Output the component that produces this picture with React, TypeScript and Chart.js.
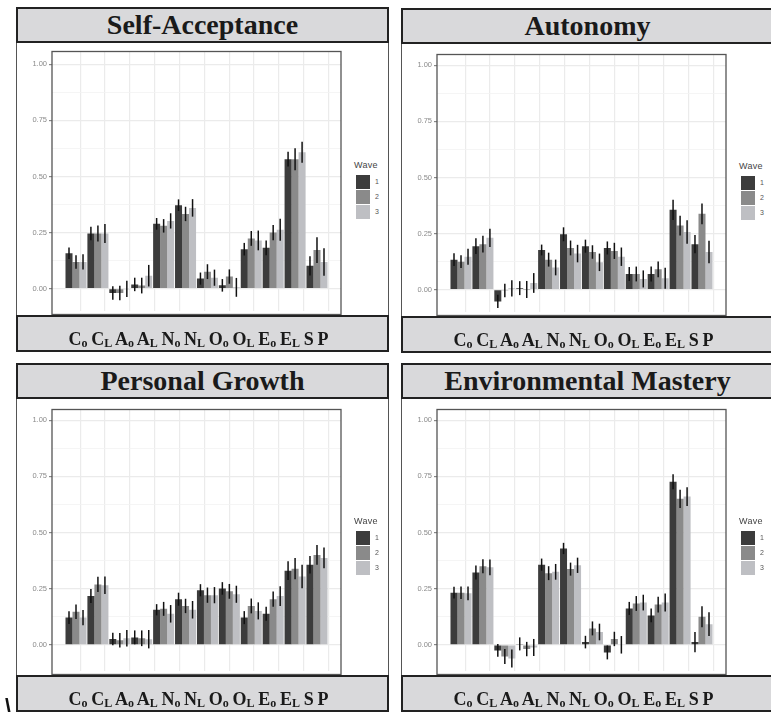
import React, { useEffect, useRef } from "react";
import { Chart, registerables } from "chart.js";
Chart.register(...registerables);

const CATEGORIES = ["Co", "CL", "Ao", "AL", "No", "NL", "Oo", "OL", "Eo", "EL", "S", "P"];
const WAVES = ["1", "2", "3"];
const WAVE_COLORS = ["#3c3c3c", "#8a8a8a", "#bebfc3"];
const Y_TICKS = [0, 0.25, 0.5, 0.75, 1];
const Y_MINOR = [0.125, 0.375, 0.625, 0.875];

// Self-Acceptance
const SA_W1 = [0.158, 0.246, -0.019, 0.019, 0.289, 0.372, 0.045, 0.015, 0.176, 0.182, 0.577, 0.102];
const SA_W2 = [0.119, 0.246, -0.019, 0.014, 0.28, 0.333, 0.076, 0.054, 0.224, 0.25, 0.577, 0.172];
const SA_W3 = [0.119, 0.246, -0.001, 0.058, 0.302, 0.36, 0.049, 0.006, 0.215, 0.263, 0.608, 0.119];
const SA_E1 = [0.026, 0.03, 0.03, 0.03, 0.026, 0.026, 0.027, 0.028, 0.028, 0.033, 0.033, 0.043];
const SA_E2 = [0.03, 0.036, 0.032, 0.035, 0.03, 0.032, 0.033, 0.032, 0.033, 0.034, 0.049, 0.057];
const SA_E3 = [0.034, 0.042, 0.036, 0.048, 0.034, 0.039, 0.036, 0.042, 0.044, 0.049, 0.047, 0.061];

// Autonomy
const AU_W1 = [0.134, 0.194, -0.052, 0.007, 0.177, 0.247, 0.194, 0.186, 0.07, 0.07, 0.356, 0.203];
const AU_W2 = [0.125, 0.203, -0.004, 0.001, 0.134, 0.186, 0.168, 0.173, 0.07, 0.091, 0.286, 0.338];
const AU_W3 = [0.147, 0.231, 0.006, 0.03, 0.099, 0.161, 0.122, 0.147, 0.048, 0.051, 0.257, 0.168];
const AU_E1 = [0.028, 0.035, 0.029, 0.031, 0.024, 0.031, 0.029, 0.029, 0.031, 0.033, 0.045, 0.041];
const AU_E2 = [0.028, 0.037, 0.03, 0.038, 0.031, 0.033, 0.03, 0.036, 0.033, 0.035, 0.044, 0.046];
const AU_E3 = [0.036, 0.041, 0.036, 0.044, 0.035, 0.039, 0.039, 0.041, 0.038, 0.047, 0.052, 0.05];

// Personal Growth
const PG_W1 = [0.121, 0.217, 0.026, 0.033, 0.156, 0.203, 0.243, 0.251, 0.121, 0.138, 0.33, 0.356];
const PG_W2 = [0.147, 0.269, 0.02, 0.029, 0.16, 0.173, 0.221, 0.238, 0.173, 0.203, 0.339, 0.4];
const PG_W3 = [0.121, 0.265, 0.029, 0.025, 0.138, 0.156, 0.221, 0.225, 0.151, 0.217, 0.304, 0.387];
const PG_E1 = [0.028, 0.031, 0.028, 0.031, 0.025, 0.029, 0.027, 0.028, 0.029, 0.031, 0.042, 0.039];
const PG_E2 = [0.032, 0.034, 0.032, 0.035, 0.031, 0.032, 0.034, 0.033, 0.033, 0.034, 0.047, 0.044];
const PG_E3 = [0.034, 0.039, 0.037, 0.041, 0.039, 0.039, 0.036, 0.038, 0.038, 0.044, 0.052, 0.046];

// Environmental Mastery
const EM_W1 = [0.232, 0.322, -0.025, 0.004, 0.357, 0.429, 0.012, -0.034, 0.162, 0.131, 0.726, 0.012];
const EM_W2 = [0.232, 0.35, -0.052, -0.019, 0.319, 0.337, 0.073, 0.026, 0.184, 0.179, 0.65, 0.125];
const EM_W3 = [0.229, 0.345, -0.061, -0.012, 0.325, 0.354, 0.057, 0.0, 0.188, 0.188, 0.66, 0.092];
const EM_E1 = [0.026, 0.031, 0.028, 0.029, 0.027, 0.025, 0.028, 0.031, 0.029, 0.031, 0.033, 0.045];
const EM_E2 = [0.028, 0.031, 0.033, 0.032, 0.031, 0.029, 0.031, 0.032, 0.033, 0.035, 0.041, 0.047];
const EM_E3 = [0.031, 0.035, 0.04, 0.038, 0.035, 0.034, 0.037, 0.039, 0.035, 0.04, 0.042, 0.053];

type PanelCfg = {
  title: string;
  values: number[][];
  errs: number[][];
  x0: number;
  y0: number;
  plotTop: number;
  plotBottom: number;
};

const PANELS: PanelCfg[] = [
  { title: "Self-Acceptance", values: [SA_W1, SA_W2, SA_W3], errs: [SA_E1, SA_E2, SA_E3], x0: 16, y0: 7, plotTop: 43, plotBottom: 308 },
  { title: "Autonomy", values: [AU_W1, AU_W2, AU_W3], errs: [AU_E1, AU_E2, AU_E3], x0: 401, y0: 8, plotTop: 45, plotBottom: 308 },
  { title: "Personal Growth", values: [PG_W1, PG_W2, PG_W3], errs: [PG_E1, PG_E2, PG_E3], x0: 16, y0: 363, plotTop: 45, plotBottom: 312 },
  { title: "Environmental Mastery", values: [EM_W1, EM_W2, EM_W3], errs: [EM_E1, EM_E2, EM_E3], x0: 401, y0: 363, plotTop: 45, plotBottom: 312 },
];

const PANEL_W = 373;
const STRIP_H = 36;
const BOTTOM_STRIP_H = 37;
const PLOT_LEFT = 36;
const PLOT_W = 289;
const Y_AXIS_W = 32;
const ONE_REL = 56;
const ZERO_REL = 285.7;
const PAD_TOP = 5;
const PAD_BOTTOM = 2;
const PAD_RIGHT = 4;

const SERIF = '"Liberation Serif", "Times New Roman", serif';
const SANS = '"Liberation Sans", Arial, sans-serif';

const isMajor = (v: number) => Y_TICKS.some((t) => Math.abs(t - v) < 1e-6);

const errorBarPlugin = {
  id: "errorBars",
  afterDatasetsDraw(chart: any) {
    const ctx = chart.ctx;
    const ys = chart.scales.y;
    ctx.save();
    ctx.strokeStyle = "#111111";
    ctx.lineWidth = 1.5;
    chart.data.datasets.forEach((ds: any, di: number) => {
      const meta = chart.getDatasetMeta(di);
      meta.data.forEach((bar: any, i: number) => {
        const v = ds.data[i].y;
        const e = ds.errs[i];
        ctx.beginPath();
        ctx.moveTo(bar.x, ys.getPixelForValue(v - e));
        ctx.lineTo(bar.x, ys.getPixelForValue(v + e));
        ctx.stroke();
      });
    });
    ctx.restore();
  },
};

const panelBorderPlugin = {
  id: "panelBorder",
  afterDraw(chart: any) {
    const { left, top, right, bottom } = chart.chartArea;
    const ctx = chart.ctx;
    ctx.save();
    ctx.strokeStyle = "#555555";
    ctx.lineWidth = 1.3;
    ctx.strokeRect(left, top, right - left, bottom - top + 4);
    ctx.restore();
  },
};

function Panel({ cfg }: { cfg: PanelCfg }) {
  const ref = useRef<HTMLCanvasElement | null>(null);
  const canvasLeft = PLOT_LEFT - Y_AXIS_W;
  const canvasTop = cfg.plotTop - PAD_TOP;
  const canvasW = PLOT_LEFT + PLOT_W + PAD_RIGHT - canvasLeft;
  const canvasH = cfg.plotBottom - canvasTop + PAD_BOTTOM;
  const pxPerUnit = ZERO_REL - ONE_REL;
  const yMax = 1 + (ONE_REL - cfg.plotTop) / pxPerUnit;
  const yMin = -(cfg.plotBottom - ZERO_REL) / pxPerUnit;

  useEffect(() => {
    if (!ref.current) return;
    const allTicks = [...Y_TICKS, ...Y_MINOR].sort((a, b) => a - b);
    const chart = new Chart(ref.current, {
      type: "bar",
      data: {
        datasets: WAVES.map((w, wi) => ({
          label: w,
          data: CATEGORIES.map((_, i) => ({ x: i, y: cfg.values[wi][i] })),
          errs: cfg.errs[wi],
          backgroundColor: WAVE_COLORS[wi],
          borderWidth: 0,
          categoryPercentage: 0.96,
          barPercentage: 1.0,
          xAxisID: "x",
          yAxisID: "y",
        })) as any,
      },
      options: {
        responsive: false,
        animation: false,
        devicePixelRatio: 1,
        layout: { padding: { top: PAD_TOP, bottom: PAD_BOTTOM, right: PAD_RIGHT, left: 0 } },
        plugins: { legend: { display: false }, tooltip: { enabled: false } },
        scales: {
          x: {
            type: "linear",
            min: -1.096,
            max: CATEGORIES.length - 1 + 1.096,
            offset: false,
            afterBuildTicks: (s: any) => {
              s.ticks = CATEGORIES.map((_, i) => ({ value: i }));
            },
            grid: { display: false, offset: false },
            border: { display: false },
            ticks: { display: false },
            afterFit: (s: any) => {
              s.height = 0;
            },
          },
          xg: {
            type: "linear",
            axis: "x",
            position: "bottom",
            min: -1.05,
            max: 9.42,
            afterBuildTicks: (s: any) => {
              s.ticks = Array.from({ length: 10 }, (_, k) => ({ value: k }));
            },
            grid: { color: "#ebebeb", lineWidth: 1.2, drawTicks: false },
            border: { display: false },
            ticks: { display: false },
            afterFit: (s: any) => {
              s.height = 0;
            },
          },
          y: {
            type: "linear",
            min: yMin,
            max: yMax,
            afterBuildTicks: (s: any) => {
              s.ticks = allTicks.map((v) => ({ value: v }));
            },
            afterFit: (s: any) => {
              s.width = Y_AXIS_W;
            },
            border: { display: false },
            grid: {
              color: (c: any) => (isMajor(c.tick.value) ? "#ebebeb" : "#f3f3f3"),
              lineWidth: (c: any) => (isMajor(c.tick.value) ? 1.2 : 0.8),
              tickColor: (c: any) => (isMajor(c.tick.value) ? "#888888" : "rgba(0,0,0,0)"),
              tickLength: 3,
            },
            ticks: {
              padding: 2,
              color: "#8a8a8a",
              font: { family: SANS, size: 7.5 },
              callback: (v: any) => (isMajor(Number(v)) ? Number(v).toFixed(2) : ""),
            },
          },
        } as any,
      },
      plugins: [errorBarPlugin, panelBorderPlugin],
    } as any);
    return () => chart.destroy();
  }, []);

  return (
    <div style={{ position: "absolute", left: cfg.x0, top: cfg.y0, width: PANEL_W, height: cfg.plotBottom + BOTTOM_STRIP_H }}>
      <div
        style={{
          position: "absolute",
          left: 0,
          top: STRIP_H,
          width: PANEL_W,
          height: cfg.plotBottom - STRIP_H,
          boxSizing: "border-box",
          borderLeft: "1.5px solid #555",
          borderRight: "1.5px solid #555",
          background: "#ffffff",
        }}
      />
      <canvas
        ref={ref}
        width={canvasW}
        height={canvasH}
        style={{ position: "absolute", left: canvasLeft, top: canvasTop, width: canvasW, height: canvasH }}
      />
      <div style={{ position: "absolute", left: 338, top: 152, fontFamily: SANS, color: "#444" }}>
        <div style={{ fontSize: 9, lineHeight: "12px", marginBottom: 3, letterSpacing: 0.3 }}>Wave</div>
        {WAVES.map((w, wi) => (
          <div key={w} style={{ display: "flex", alignItems: "center", height: 15 }}>
            <div style={{ width: 14, height: 14, background: WAVE_COLORS[wi], marginLeft: 2 }} />
            <span style={{ fontSize: 7, marginLeft: 5, color: "#555" }}>{w}</span>
          </div>
        ))}
      </div>
      <div
        style={{
          position: "absolute",
          left: 0,
          top: 0,
          width: PANEL_W,
          height: STRIP_H,
          boxSizing: "border-box",
          border: "2px solid #222",
          background: "#d9d9db",
          display: "flex",
          alignItems: "center",
          justifyContent: "center",
          fontFamily: SERIF,
          fontWeight: "bold",
          fontSize: 28,
          color: "#1a1a1a",
          whiteSpace: "nowrap",
        }}
      >
        {cfg.title}
      </div>
      <div
        style={{
          position: "absolute",
          left: 0,
          top: cfg.plotBottom,
          width: PANEL_W,
          height: BOTTOM_STRIP_H,
          boxSizing: "border-box",
          border: "2px solid #222",
          background: "#d9d9db",
        }}
      >
        <div
          style={{
            position: "absolute",
            left: 0,
            top: 13,
            width: "100%",
            textAlign: "center",
            transform: "translateX(-4px)",
            fontFamily: SERIF,
            fontWeight: "bold",
            fontSize: 18,
            lineHeight: "18px",
            wordSpacing: "-0.8px",
            color: "#1a1a1a",
            whiteSpace: "nowrap",
          }}
        >
          {CATEGORIES.map((c, i) => (
            <React.Fragment key={c}>
              {i > 0 ? " " : ""}
              <span>
                {c[0]}
                {c.length > 1 ? (
                  <span style={{ fontSize: 12, position: "relative", top: 2 }}>{c.slice(1)}</span>
                ) : null}
              </span>
            </React.Fragment>
          ))}
        </div>
      </div>
    </div>
  );
}

export default function App() {
  return (
    <div style={{ position: "absolute", left: 0, top: 0, width: 771, height: 712, overflow: "hidden", background: "#ffffff" }}>
      {PANELS.map((p) => (
        <Panel key={p.title} cfg={p} />
      ))}
      <span
        style={{
          position: "absolute",
          left: 5,
          top: 696,
          fontFamily: SANS,
          fontWeight: "bold",
          fontSize: 22,
          lineHeight: "22px",
          color: "#111",
        }}
      >
        \
      </span>
    </div>
  );
}
